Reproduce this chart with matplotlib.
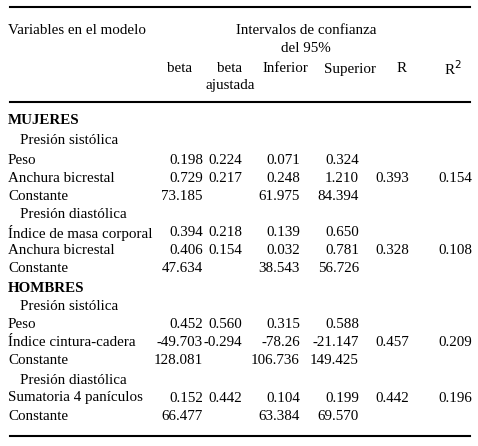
import matplotlib.pyplot as plt

W, H = 478, 446

# Table content
row_labels = ['Peso', 'Anchura bicrestal', 'Constante',
              'Índice de masa corporal', 'Anchura bicrestal', 'Constante',
              'Peso', 'Índice cintura-cadera', 'Constante',
              'Sumatoria 4 panículos', 'Constante']
row_y = [160, 178, 196, 233, 251, 269, 325, 343, 361, 398, 416]
beta = ['0.198', '0.729', '73.185', '0.394', '0.406', '47.634',
        '0.452', '-49.703', '128.081', '0.152', '66.477']
beta_aj = ['0.224', '0.217', '', '0.218', '0.154', '',
           '0.560', '-0.294', '', '0.442', '']
inferior = ['0.071', '0.248', '61.975', '0.139', '0.032', '38.543',
            '0.315', '-78.26', '106.736', '0.104', '63.384']
superior = ['0.324', '1.210', '84.394', '0.650', '0.781', '56.726',
            '0.588', '-21.147', '149.425', '0.199', '69.570']
r_vals = ['', '0.393', '', '', '0.328', '', '', '0.457', '', '0.442', '']
r2_vals = ['', '0.154', '', '', '0.108', '', '', '0.209', '', '0.196', '']

sections = [('MUJERES', 121), ('HOMBRES', 288)]
subsections = [('Presión sistólica', 141), ('Presión diastólica', 215),
               ('Presión sistólica', 307), ('Presión diastólica', 380)]

plt.rcParams['font.family'] = ['Liberation Serif', 'DejaVu Serif']
fs = 10.8

fig = plt.figure(figsize=(W / 100, H / 100), dpi=100)
ax = fig.add_axes([0, 0, 1, 1])
ax.set_xlim(0, W)
ax.set_ylim(H, 0)
ax.axis('off')

for y in (7, 102, 436):
    ax.plot([10, 470], [y, y], color='black', lw=1.5)

def txt(x, y, s, **kw):
    ax.text(x, y, s, fontsize=fs, va='center', ha=kw.pop('ha', 'left'), **kw)

# header
txt(8, 30, 'Variables en el modelo')
txt(306, 30, 'Intervalos de confianza', ha='center')
txt(306, 49, 'del 95%', ha='center')
for x, s in [(180, 'beta'), (230, 'beta'), (285, 'Inferior'), (350, 'Superior'),
             (402, 'R'), (453, r'R$^2$')]:
    txt(x, 69, s, ha='center')
txt(230, 86, 'ajustada', ha='center')

for s, y in sections:
    txt(8, y, s, fontweight='bold')
for s, y in subsections:
    txt(20, y, s)

cols = [(beta, 203), (beta_aj, 242), (inferior, 300), (superior, 359),
        (r_vals, 409), (r2_vals, 472)]
for lab, y in zip(row_labels, row_y):
    txt(8, y, lab)
for vals, xr in cols:
    for v, y in zip(vals, row_y):
        if v:
            txt(xr, y, v, ha='right')

fig.savefig('out.png', dpi=100)
